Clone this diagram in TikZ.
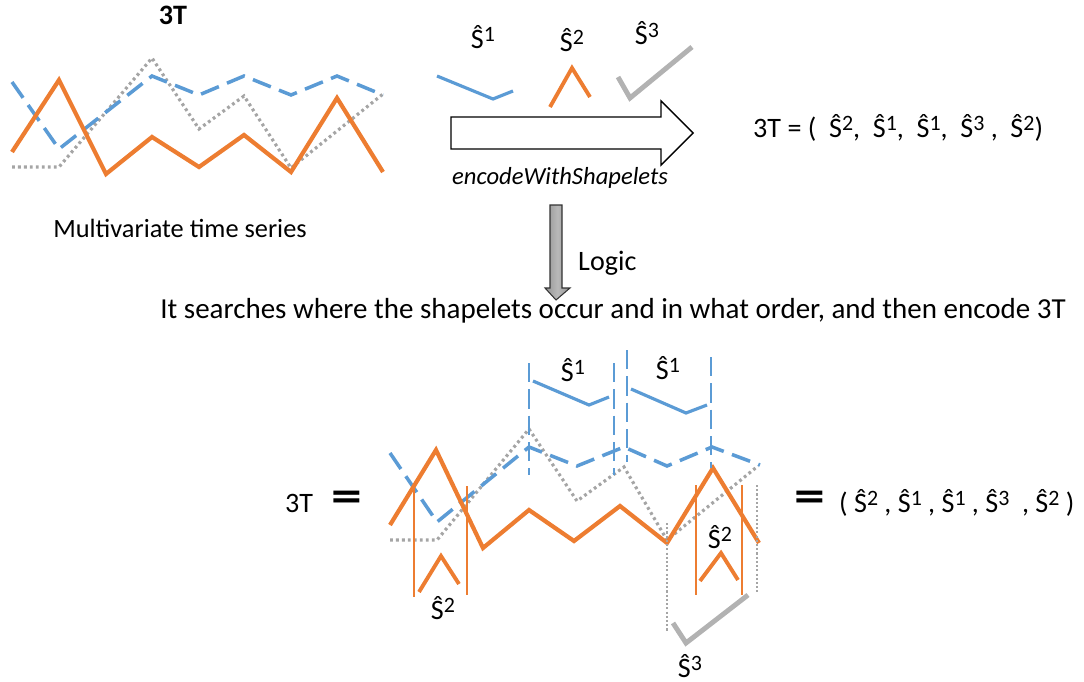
\documentclass[tikz,border=0pt]{standalone}
\usepackage{fontspec}
\setmainfont{Carlito}
\usetikzlibrary{positioning}
\definecolor{tsBlue}{HTML}{5B9BD5}
\definecolor{tsOrange}{HTML}{ED7D31}
\definecolor{tsGray}{HTML}{A5A5A5}
\newcommand{\shp}[1]{\^{S}\raisebox{0.55ex}{\scalebox{0.78}{#1}}}
\newcommand{\wideeq}{\scalebox{1.35}[1]{=}}

\begin{document}
\begin{tikzpicture}[x=0.02cm,y=-0.02cm,
    font=\fontsize{16}{18}\selectfont,
    orangeLine/.style={tsOrange,line width=2.4pt},
    blueDash/.style={tsBlue,line width=2pt,dash pattern=on 11pt off 5pt},
    grayDot/.style={tsGray,line width=1.8pt,dash pattern=on 1.6pt off 1.8pt},
    blueShp/.style={tsBlue,line width=1.8pt},
    orangeShp/.style={tsOrange,line width=2.2pt},
    grayShp/.style={tsGray!85,line width=2.8pt},
    blueMark/.style={tsBlue,line width=0.9pt,dash pattern=on 11pt off 4pt},
    orangeMark/.style={tsOrange,line width=0.9pt},
    grayMark/.style={tsGray,line width=0.9pt,dash pattern=on 1.2pt off 1.2pt},
    bigEq/.style={font=\fontsize{26}{28}\selectfont\bfseries}]
    \useasboundingbox (0,0) rectangle (1084,682);

    % input series
    \node[font=\fontsize{16}{18}\selectfont\bfseries] (ttTop) at (173,15) {3T};
    \draw[grayDot] (12,167)--(59,167)--(152,58)--(199,129)--(244,96)--(291,168)--(383,94);
    \draw[blueDash] (12,82)--(59,149)--(152,76)--(199,95)--(244,76)--(291,95)--(337,76)--(383,95);
    \draw[orangeLine] (12,152)--(59,80)--(106,174)--(152,137)--(199,167)--(244,135)--(291,172)--(337,98)--(383,172);
    \node[font=\fontsize{15}{17}\selectfont] (mts) at (180,228) {Multivariate time series};

    % shapelets
    \node (sOne) at (483,37) {\shp{1}};
    \node (sTwo) at (572,40) {\shp{2}};
    \node (sThree) at (647,33) {\shp{3}};
    \draw[blueShp] (437,76)--(493,99)--(513,91);
    \draw[orangeShp] (550,107)--(572,68)--(590,97);
    \draw[grayShp] (618,77)--(630,98)--(692,47);

    % encode arrow
    \draw[fill=white,line width=0.8pt] (451,117)--(661,117)--(661,101)--(693,133)--(661,165)--(661,149)--(451,149)--cycle;
    \node[font=\fontsize{14}{16}\selectfont\itshape] (enc) at (560,178) {encodeWithShapelets};
    \node[anchor=west] (resTop) at (747,128) {3T = (~~\shp{2},~~\shp{1},~~\shp{1},~~\shp{3}~,~~\shp{2})};

    % logic arrow
    \draw[left color=gray!85,right color=gray!85,middle color=gray!55,draw=gray!40!black,line width=0.6pt]
      (550,205)--(562,205)--(562,288)--(570,288)--(556,300)--(545,288)--(550,288)--cycle;
    \node[anchor=west] (logic) at (572,263) {Logic};
    \node[font=\fontsize{16.5}{18}\selectfont] (caption) at (613,311) {It searches where the shapelets occur and in what order, and then encode 3T};

    % encoded series
    \node (ttBot) at (299,503) {3T};
    \node[bigEq] (eqL) at (347,501) {\wideeq};
    \draw[grayDot] (390,540)--(437,540)--(529,429)--(577,501)--(624,467)--(667,540)--(758,466);
    \draw[blueDash] (390,453)--(437,522)--(529,447)--(577,466)--(624,447)--(667,466)--(712,447)--(760,465);
    \draw[orangeLine] (390,525)--(436,450)--(483,548)--(529,510)--(574,541)--(620,506)--(667,543)--(713,468)--(759,543);

    % found shapelets
    \draw[blueMark] (529,363)--(529,475);
    \draw[blueMark] (614,363)--(614,475);
    \draw[blueMark] (627,350)--(627,462);
    \draw[blueMark] (711,357)--(711,468);
    \draw[blueShp] (533,381)--(589,405)--(609,397);
    \draw[blueShp] (631,389)--(686,413)--(707,405);
    \node (bOne) at (573,370) {\shp{1}};
    \node (bTwo) at (668,368) {\shp{1}};

    \draw[orangeMark] (414,484)--(414,597);
    \draw[orangeMark] (467,486)--(467,595);
    \draw[orangeShp] (419,592)--(441,556)--(459,584);
    \node (oOne) at (443,608) {\shp{2}};

    \draw[orangeMark] (696,485)--(696,595);
    \draw[orangeMark] (742,485)--(742,595);
    \draw[orangeShp] (700,581)--(721,553)--(738,580);
    \node (oTwo) at (720,537) {\shp{2}};

    \draw[grayMark] (667,523)--(667,632);
    \draw[grayMark] (757,485)--(757,592);
    \draw[grayShp] (673,623)--(686,643)--(748,595);
    \node (gOne) at (690,666) {\shp{3}};

    \node[bigEq,anchor=west] (eqR) at (788,501) {\wideeq};
    \node[anchor=west] (resBot) at (833,503) {(~\shp{2}~,~\shp{1}~,~\shp{1}~,~\shp{3}~~,~\shp{2}~)};
\end{tikzpicture}
\end{document}
